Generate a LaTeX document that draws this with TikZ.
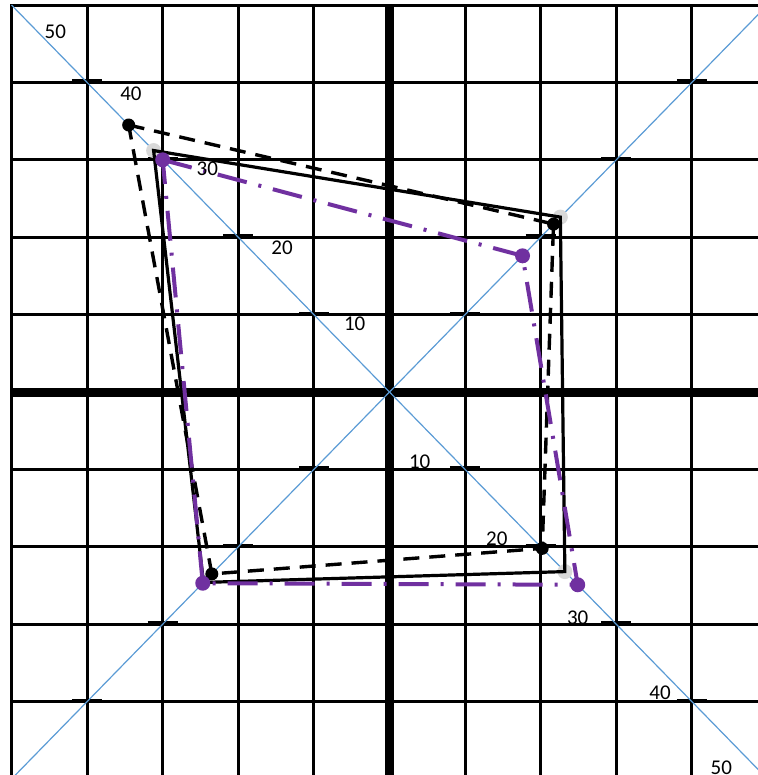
\documentclass[tikz,border=0pt]{standalone}
\usepackage{fontspec}
\setmainfont{Carlito}
\definecolor{diagblue}{HTML}{5B9BD5}
\definecolor{quadpurple}{HTML}{7030A0}
\begin{document}
\begin{tikzpicture}[x=37.8pt, y=38.7pt,
grid line/.style={black, line width=1.5pt, line cap=rect},
axis line/.style={black, line width=4.5pt},
diagonal/.style={diagblue, line width=0.6pt},
tick/.style={black, line width=1.4pt},
solid quad/.style={black, line width=1.6pt},
dashed quad/.style={black, line width=1.7pt, dash pattern=on 8pt off 5pt},
purple quad/.style={quadpurple, line width=2pt, dash pattern=on 15pt off 6pt on 1.5pt off 6pt},
black dot/.style={circle, fill=black, inner sep=0pt, minimum size=6.5pt},
purple dot/.style={circle, fill=quadpurple, inner sep=0pt, minimum size=7.5pt},
grey dot/.style={circle, fill=black!15, inner sep=0pt, minimum size=7.5pt},
num/.style={font=\fontsize{10.5}{12}\selectfont, inner sep=0pt}]
\useasboundingbox (-5.152,-4.948) rectangle (4.874,5.065);
\clip (-5.152,-4.948) rectangle (4.874,5.065);
% grid and axes
\foreach \i in {-5,...,4} \draw[grid line] (\i,-5) -- (\i,5);
\foreach \j in {-4,...,5} \draw[grid line] (-5,\j) -- (5,\j);
\draw[axis line] (0,-5) -- (0,5);
\draw[axis line] (-5,0) -- (5,0);
\foreach \k in {1,...,4}
  \foreach \sx/\sy in {-1/1,1/1,-1/-1,1/-1}
    \draw[tick] (\sx*\k-0.2,\sy*\k+0.022) -- (\sx*\k+0.2,\sy*\k+0.022);
\draw[diagonal] (-5,5) -- (5,-5);
\draw[diagonal] (-5,-5) -- (5,5);
% corners
\coordinate (s1) at (-3.12,3.12);
\coordinate (s2) at (2.26,2.26);
\coordinate (s3) at (2.32,-2.32);
\coordinate (s4) at (-2.46,-2.46);
\coordinate (d1) at (-3.45,3.45);
\coordinate (d2) at (2.17,2.17);
\coordinate (d3) at (2.02,-2.02);
\coordinate (d4) at (-2.35,-2.35);
\coordinate (p1) at (-3,3);
\coordinate (p2) at (1.76,1.76);
\coordinate (p3) at (2.49,-2.49);
\coordinate (p4) at (-2.47,-2.47);
\foreach \c in {s1,s2,s3,s4} \node[grey dot] (g\c) at (\c) {};
% quadrilaterals
\draw[solid quad] (s1) -- (s2) -- (s3) -- (s4) -- cycle;
\draw[dashed quad] (d1) -- (d2) -- (d3) -- (d4) -- cycle;
\draw[purple quad] (p1) -- (p2) -- (p3) -- (p4) -- cycle;
\foreach \c in {d1,d2,d3,d4} \node[black dot] (b\c) at (\c) {};
\foreach \c in {p1,p2,p3,p4} \node[purple dot] (v\c) at (\c) {};
% scale labels
\foreach \t/\x/\y in {50/-4.42/4.65, 40/-3.42/3.86, 30/-2.41/2.88, 20/-1.42/1.87, 10/-0.46/0.88}
  \node[num] (up\t) at (\x,\y) {\t};
\foreach \t/\x/\y in {10/0.40/-0.90, 20/1.42/-1.90, 30/2.49/-2.92, 40/3.58/-3.89, 50/4.39/-4.85}
  \node[num] (lo\t) at (\x,\y) {\t};
\end{tikzpicture}
\end{document}
